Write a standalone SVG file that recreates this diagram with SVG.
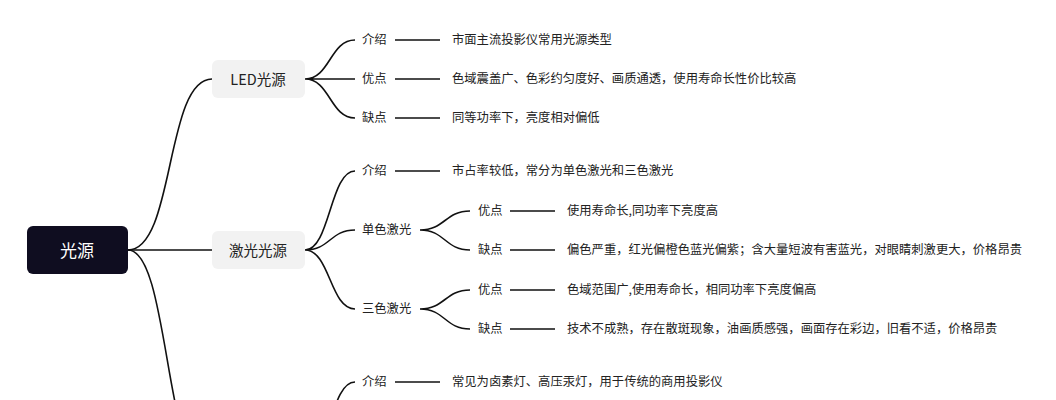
<svg xmlns="http://www.w3.org/2000/svg" width="1056" height="400" viewBox="0 0 1056 400">
<style>
text{font-family:"Noto Sans CJK SC","Liberation Sans",sans-serif;fill:#222;dominant-baseline:central}
.t{font-size:12.3px}
.n{font-size:14.5px;text-anchor:middle}
.c path{fill:none;stroke:#111;stroke-width:1.6}
.box{fill:#f2f2f2}
</style>
<rect width="1056" height="400" fill="#fff"/>
<g class="c" id="connectors">
<path d="M128,250 C175,250 165,79 212,79"/>
<path d="M128,250 H212"/>
<path d="M128,250 C170,250 165,480 212,480"/>
<path d="M305,79 C330,79 330,40 355,40 M305,79 H355 M305,79 C330,79 330,118 355,118"/>
<path d="M395,40 H440 M395,79 H440 M395,118 H440"/>
<path d="M305,250 C330,250 330,171 355,171 M305,250 C330,250 330,230 355,230 M305,250 C330,250 330,309 355,309"/>
<path d="M395,171 H440"/>
<path d="M420,230 C445,230 445,211 470,211 M420,230 C445,230 445,250 470,250"/>
<path d="M420,309 C445,309 445,290 470,290 M420,309 C445,309 445,329 470,329"/>
<path d="M510,211 H555 M510,250 H555 M510,290 H555 M510,329 H555"/>
<path d="M305,461 C330,461 330,382 355,382"/>
<path d="M395,382 H440"/>
</g>
<g id="root"><rect x="27" y="226" width="101" height="48" rx="6" fill="#0f0d20"/><text class="n" x="77" y="249" style="fill:#fff;font-size:17px">光源</text></g>
<g id="led"><rect class="box" x="212" y="60" width="93" height="38" rx="6"/><text class="n" x="258" y="78">LED光源</text></g>
<g id="laser"><rect class="box" x="212" y="231" width="93" height="38" rx="6"/><text class="n" x="258" y="249">激光光源</text></g>
<g id="leaves">
<text class="t" x="362" y="39">介绍</text><text class="t" x="452" y="39">市面主流投影仪常用光源类型</text>
<text class="t" x="362" y="78">优点</text><text class="t" x="452" y="78">色域震盖广、色彩约匀度好、画质通透，使用寿命长性价比较高</text>
<text class="t" x="362" y="117">缺点</text><text class="t" x="452" y="117">同等功率下，亮度相对偏低</text>
<text class="t" x="362" y="170">介绍</text><text class="t" x="452" y="170">市占率较低，常分为单色激光和三色激光</text>
<text class="t" x="362" y="229">单色激光</text>
<text class="t" x="478" y="210">优点</text><text class="t" x="567" y="210">使用寿命长,同功率下亮度高</text>
<text class="t" x="478" y="249">缺点</text><text class="t" x="567" y="249">偏色严重，红光偏橙色蓝光偏紫；含大量短波有害蓝光，对眼睛刺激更大，价格昂贵</text>
<text class="t" x="362" y="308">三色激光</text>
<text class="t" x="478" y="289">优点</text><text class="t" x="567" y="289">色域范围广,使用寿命长，相同功率下亮度偏高</text>
<text class="t" x="478" y="328">缺点</text><text class="t" x="567" y="328">技术不成熟，存在散斑现象，油画质感强，画面存在彩边，旧看不适，价格昂贵</text>
<text class="t" x="362" y="381">介绍</text><text class="t" x="452" y="381">常见为卤素灯、高压汞灯，用于传统的商用投影仪</text>
</g>
</svg>
